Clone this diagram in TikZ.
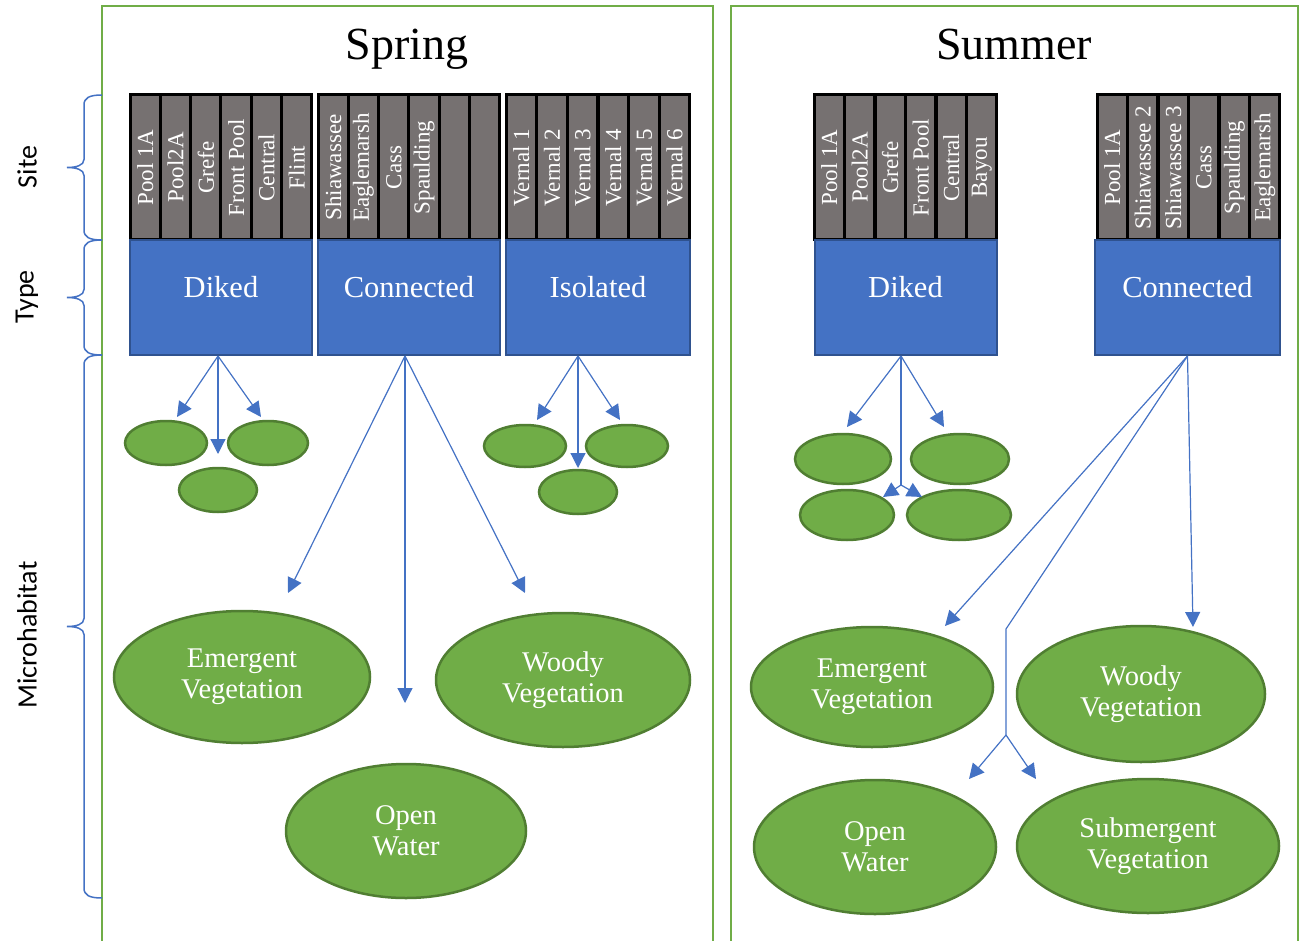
\documentclass[tikz,border=0pt]{standalone}
\usepackage{fontspec}
\setmainfont{Liberation Serif}
\newfontfamily\labelfont{Carlito}
\usetikzlibrary{positioning,arrows.meta,shapes.geometric}
\definecolor{panelgreen}{RGB}{112,173,71}
\definecolor{habgreen}{RGB}{112,173,71}
\definecolor{habedge}{RGB}{80,126,50}
\definecolor{typeblue}{RGB}{68,114,196}
\definecolor{typeedge}{RGB}{47,82,143}
\definecolor{sitegray}{RGB}{118,113,113}
\tikzset{
  panel/.style={draw=panelgreen, line width=2.5pt},
  season/.style={anchor=base, font=\fontsize{46}{50}\selectfont},
  axislbl/.style={rotate=90, font=\labelfont\fontsize{28}{32}\selectfont},
  sitecol/.style={rotate=90, draw=black, line width=3pt, fill=sitegray, text=white,
                  minimum width=145pt, minimum height=30.33pt, inner sep=1pt,
                  font=\fontsize{23}{25}\selectfont},
  typebox/.style={draw=typeedge, fill=typeblue, line width=2pt, text=white,
                  minimum width=182pt, minimum height=115pt, text height=20pt, text depth=20pt,
                  font=\fontsize{30.5}{33}\selectfont},
  habitat/.style={ellipse, draw=habedge, fill=habgreen, line width=2.5pt, text=white,
                  align=center, inner sep=0pt, font=\fontsize{28.5}{31}\selectfont},
  link/.style={draw=typeblue, line width=1.2pt},
  arr/.style={link, -{Triangle[length=15pt,width=15pt]}},
  bracket/.style={draw=typeblue, line width=1.5pt}
}

\begin{document}
\begin{tikzpicture}[x=1pt, y=-1pt]
  \useasboundingbox (0,0) rectangle (1301,941);
  % panels and titles
  \draw[panel] (102,6) rectangle (713,960);
  \draw[panel] (731,6) rectangle (1298,960);
  \node[season] (spTitle) at (407,60) {Spring};
  \node[season] (suTitle) at (1014,60) {Summer};

  % braces on the left
  \foreach \ya/\yb in {95/240,240/355,355/898}{
    \pgfmathsetmacro\ym{(\ya+\yb)/2}
    \draw[bracket] (102,\ya) .. controls (89,\ya) and (84,\ya+3) .. (84,\ya+10)
      -- (84,\ym-8) .. controls (84,\ym-2) and (76,\ym) .. (67,\ym)
      .. controls (76,\ym) and (84,\ym+2) .. (84,\ym+8)
      -- (84,\yb-10) .. controls (84,\yb-3) and (89,\yb) .. (102,\yb);
  }
  \node[axislbl] (lblSite) at (27,167) {Site};
  \node[axislbl] (lblType) at (27,297) {Type};
  \node[axislbl] (lblMicro) at (27,635) {Microhabitat};

  % site columns
  \foreach \lbl [count=\i] in {Pool 1A,Pool2A,Grefe,Front Pool,Central,Flint}
    \node[sitecol] (spD\i) at ({130+30.33*(\i-0.5)},167.5) {\lbl};
  \foreach \lbl [count=\i] in {Shiawassee,Eaglemarsh,Cass,Spaulding,{},{}}
    \node[sitecol] (spC\i) at ({318+30.33*(\i-0.5)},167.5) {\lbl};
  \foreach \i in {1,...,6}
    \node[sitecol] (spI\i) at ({506+30.67*(\i-0.5)},167.5) {Vernal \i};
  \foreach \lbl [count=\i] in {Pool 1A,Pool2A,Grefe,Front Pool,Central,Bayou}
    \node[sitecol] (suD\i) at ({814+30.5*(\i-0.5)},167.5) {\lbl};
  \foreach \lbl [count=\i] in {Pool 1A,Shiawassee 2,Shiawassee 3,Cass,Spaulding,Eaglemarsh}
    \node[sitecol] (suC\i) at ({1097+30.5*(\i-0.5)},167.5) {\lbl};

  % type boxes
  \node[typebox] (spDiked) at (221,297.5) {Diked};
  \node[typebox] (spConn) at (409,297.5) {Connected};
  \node[typebox, minimum width=184pt] (spIso) at (598,297.5) {Isolated};
  \node[typebox] (suDiked) at (905.5,297.5) {Diked};
  \node[typebox, minimum width=185pt] (suConn) at (1187.5,297.5) {Connected};

  % spring microhabitats
  \node[habitat, minimum width=82pt, minimum height=44pt] (sdA) at (166,443) {};
  \node[habitat, minimum width=80pt, minimum height=44pt] (sdB) at (268,443) {};
  \node[habitat, minimum width=78pt, minimum height=44pt] (sdC) at (218,490) {};
  \node[habitat, minimum width=82pt, minimum height=42pt] (siA) at (525,446) {};
  \node[habitat, minimum width=82pt, minimum height=42pt] (siB) at (627,446) {};
  \node[habitat, minimum width=78pt, minimum height=44pt] (siC) at (578,492) {};
  \node[habitat, minimum width=256pt, minimum height=132pt] (spEmer) at (242,677) {Emergent\\Vegetation};
  \node[habitat, minimum width=254pt, minimum height=134pt] (spWood) at (563,680) {Woody\\Vegetation};
  \node[habitat, minimum width=240pt, minimum height=134pt] (spOpen) at (406,831) {Open\\Water};

  % summer microhabitats
  \node[habitat, minimum width=96pt, minimum height=50pt] (udA) at (843,459) {};
  \node[habitat, minimum width=98pt, minimum height=50pt] (udB) at (960,459) {};
  \node[habitat, minimum width=94pt, minimum height=50pt] (udC) at (847,515) {};
  \node[habitat, minimum width=104pt, minimum height=50pt] (udD) at (959,515) {};
  \node[habitat, minimum width=242pt, minimum height=120pt] (suEmer) at (872,687) {Emergent\\Vegetation};
  \node[habitat, minimum width=248pt, minimum height=136pt] (suWood) at (1141,694) {Woody\\Vegetation};
  \node[habitat, minimum width=242pt, minimum height=134pt] (suOpen) at (875,847) {Open\\Water};
  \node[habitat, minimum width=262pt, minimum height=134pt] (suSubm) at (1148,846) {Submergent\\Vegetation};

  % arrow ends
  \coordinate (sdL) at (177,417);
  \coordinate (sdM) at (218,454);
  \coordinate (sdR) at (261,417);
  \coordinate (scL) at (288,593);
  \coordinate (scM) at (405,703);
  \coordinate (scR) at (525,593);
  \coordinate (siL) at (537,420);
  \coordinate (siM) at (578,468);
  \coordinate (siR) at (620,420);
  \coordinate (udL) at (847,427);
  \coordinate (udR) at (944,427);
  \coordinate (udFork) at (901,485);
  \coordinate (udFL) at (883,497);
  \coordinate (udFR) at (922,497);
  \coordinate (ucL) at (945,626);
  \coordinate (ucR) at (1193,627);
  \coordinate (ucBend) at (1006,629);
  \coordinate (ucFork) at (1006,735);
  \coordinate (ucFL) at (969,779);
  \coordinate (ucFR) at (1036,779);

  % spring connectors
  \draw[arr] ([xshift=-3pt]spDiked.south) -- (sdL);
  \draw[arr] ([xshift=-3pt]spDiked.south) -- (sdM);
  \draw[arr] ([xshift=-3pt]spDiked.south) -- (sdR);
  \draw[arr] ([xshift=-4pt]spConn.south) -- (scL);
  \draw[arr] ([xshift=-4pt]spConn.south) -- (scM);
  \draw[arr] ([xshift=-4pt]spConn.south) -- (scR);
  \draw[arr] ([xshift=-20pt]spIso.south) -- (siL);
  \draw[arr] ([xshift=-20pt]spIso.south) -- (siM);
  \draw[arr] ([xshift=-20pt]spIso.south) -- (siR);

  % summer connectors
  \draw[arr] ([xshift=-4.5pt]suDiked.south) -- (udL);
  \draw[arr] ([xshift=-4.5pt]suDiked.south) -- (udR);
  \draw[link] ([xshift=-4.5pt]suDiked.south) -- (udFork);
  \draw[arr] (udFork) -- (udFL);
  \draw[arr] (udFork) -- (udFR);
  \draw[arr] (suConn.south) -- (ucL);
  \draw[arr] (suConn.south) -- (ucR);
  \draw[link] (suConn.south) -- (ucBend) -- (ucFork);
  \draw[arr] (ucFork) -- (ucFL);
  \draw[arr] (ucFork) -- (ucFR);
\end{tikzpicture}
\end{document}
